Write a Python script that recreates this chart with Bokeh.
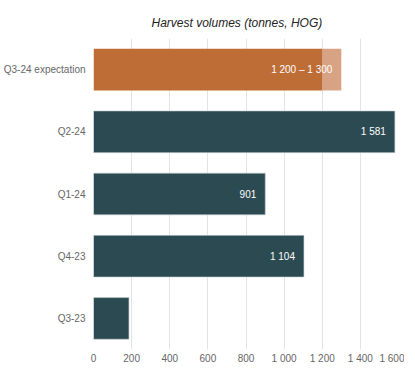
from bokeh.plotting import figure
from bokeh.models import FactorRange, Range1d, FixedTicker, ColumnDataSource
from bokeh.embed import file_html
from bokeh.resources import INLINE
from bokeh.core.properties import value

categories = ["Q3-24 expectation", "Q2-24", "Q1-24", "Q4-23", "Q3-23"]
actual_cats = ["Q2-24", "Q1-24", "Q4-23", "Q3-23"]
actual_values = [1581, 901, 1104, 186]
actual_labels = ["1 581", "901", "1 104", ""]
expect_low = 1200
expect_high = 1300
expect_label = "1 200 \u2013 1 300"
x_ticks = [0, 200, 400, 600, 800, 1000, 1200, 1400, 1600]
x_tick_labels = ["0", "200", "400", "600", "800", "1 000", "1 200", "1 400", "1 600"]

FONT = "Liberation Sans"

p = figure(
    y_range=FactorRange(*categories[::-1]),
    x_range=Range1d(0, 1600),
    frame_width=305, frame_height=311,
    min_border_left=88, min_border_right=6, min_border_top=38, min_border_bottom=15,
    output_backend="svg", toolbar_location=None,
)
p.title.text = "Harvest volumes (tonnes, HOG)"
p.title.text_font = FONT
p.title.text_font_style = "italic"
p.title.text_font_size = "12px"
p.title.text_color = "#222222"
p.title.align = "left"
p.title.offset = 58
p.title.standoff = 18
p.outline_line_color = None
p.background_fill_color = "white"

h = 0.67
src = ColumnDataSource(dict(cat=actual_cats, val=actual_values, lab=actual_labels))
p.hbar(y="cat", left=0, right="val", height=h, source=src,
       fill_color="#2B4A52", line_color="#c8d0d2", line_width=0.6)

p.hbar(y=[categories[0]], left=[expect_low], right=[expect_high], height=h,
       fill_color="#D8A384", line_color=None)
p.hbar(y=[categories[0]], left=[0], right=[expect_low], height=h,
       fill_color="#BF6D36", line_color=None)

p.text(x="val", y="cat", text="lab", source=src, text_align="right",
       text_baseline="middle", x_offset=-9, text_color="white",
       text_font=value(FONT), text_font_size="10px")
p.text(x=[expect_high], y=[categories[0]], text=[expect_label], text_align="right",
       text_baseline="middle", x_offset=-9, text_color="white",
       text_font=value(FONT), text_font_size="10px")

p.xaxis.ticker = FixedTicker(ticks=x_ticks)
p.xaxis.major_label_overrides = {t: l for t, l in zip(x_ticks, x_tick_labels)}
for ax in (p.xaxis, p.yaxis):
    ax.axis_line_color = None
    ax.major_tick_line_color = None
    ax.minor_tick_line_color = None
    ax.major_tick_out = 0
    ax.major_tick_in = 0
    ax.minor_tick_out = 0
    ax.minor_tick_in = 0
    ax.major_label_text_color = "#666666"
    ax.major_label_text_font = FONT
    ax.major_label_text_font_size = "10px"
p.xaxis.major_label_standoff = 3
p.yaxis.major_label_standoff = 8
p.xgrid.ticker = FixedTicker(ticks=x_ticks)
p.xgrid.grid_line_color = "#e3e3e3"
p.ygrid.grid_line_color = None

open("out.html", "w").write(file_html(p, INLINE))
